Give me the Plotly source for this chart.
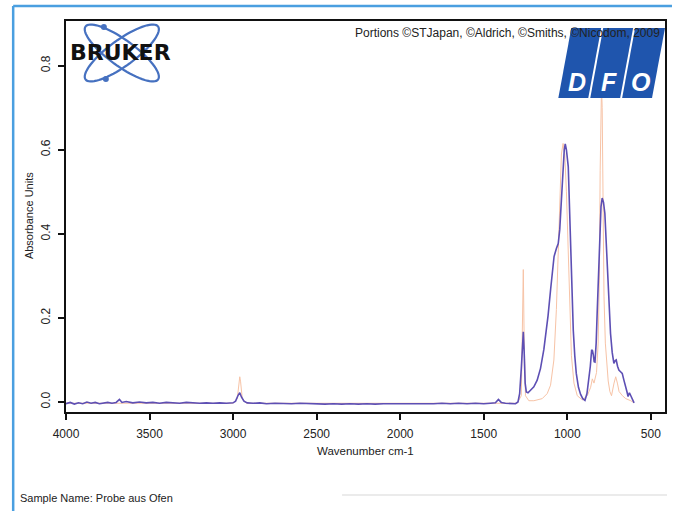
import math
import plotly.graph_objects as go

# ---------------- data ----------------
sample_wn = [4000, 3975, 3950, 3925, 3900, 3875, 3850, 3825, 3800, 3775, 3750, 3725, 3700, 3680, 3665,
             3640, 3600, 3560, 3520, 3480, 3440, 3400, 3360, 3320, 3280, 3240, 3200, 3160, 3120, 3080,
             3040, 3000, 2985, 2970, 2960, 2950, 2935, 2915, 2880, 2840, 2800, 2750, 2700, 2650, 2600,
             2550, 2500, 2450, 2400, 2350, 2300, 2250, 2200, 2150, 2100, 2050, 2000, 1950, 1900, 1850,
             1800, 1750, 1700, 1650, 1600, 1550, 1500, 1460, 1430, 1412, 1395, 1370, 1340, 1310, 1295,
             1285, 1275, 1268, 1263, 1258, 1252, 1245, 1235, 1220, 1200, 1180, 1160, 1140, 1129, 1115,
             1099, 1090, 1079, 1065, 1054, 1045, 1040, 1033, 1026, 1018, 1012, 1005, 994, 987, 980,
             972, 964, 955, 946, 933, 920, 907, 894, 882, 870, 862, 854, 849, 844, 839,
             834, 827, 821, 813, 806, 798, 791, 783, 775, 768, 761, 751, 741, 731, 721,
             714, 707, 699, 691, 681, 671, 661, 651, 643, 636, 628, 621, 613, 605, 600]
sample_abs = [-0.004, -0.001, -0.005, -0.002, -0.004, 0.000, -0.003, -0.001, -0.004, -0.002, -0.001, -0.003, -0.001, 0.006, -0.001,
              0.001, -0.002, 0.000, -0.002, -0.001, -0.003, -0.001, -0.002, -0.003, -0.001, -0.002, -0.003, -0.002, -0.003, -0.002,
              -0.003, -0.002, 0.002, 0.016, 0.022, 0.012, 0.002, -0.002, -0.003, -0.002, -0.004, -0.003, -0.004, -0.004, -0.003,
              -0.004, -0.004, -0.005, -0.004, -0.005, -0.004, -0.005, -0.004, -0.005, -0.004, -0.004, -0.005, -0.004, -0.004, -0.005,
              -0.004, -0.003, -0.004, -0.003, -0.004, -0.003, -0.004, -0.003, -0.002, 0.006, -0.001, -0.003, -0.004, -0.004, 0.000,
              0.020, 0.080, 0.150, 0.167, 0.120, 0.045, 0.024, 0.022, 0.028, 0.036, 0.052, 0.080, 0.125, 0.160, 0.205,
              0.270, 0.310, 0.346, 0.365, 0.377, 0.410, 0.449, 0.500, 0.560, 0.600, 0.614, 0.600, 0.560, 0.470, 0.370,
              0.260, 0.171, 0.110, 0.068, 0.035, 0.018, 0.008, 0.004, 0.020, 0.052, 0.085, 0.124, 0.122, 0.112, 0.096,
              0.095, 0.140, 0.211, 0.320, 0.410, 0.465, 0.485, 0.475, 0.449, 0.390, 0.306, 0.220, 0.163, 0.118, 0.092,
              0.098, 0.100, 0.085, 0.076, 0.072, 0.068, 0.052, 0.040, 0.025, 0.013, 0.022, 0.016, 0.008, 0.004, -0.002]

ref_wn = [4000, 3000, 2975, 2965, 2960, 2955, 2945, 2920, 1300, 1275, 1268, 1263, 1258, 1250, 1230,
          1200, 1150, 1120, 1100, 1080, 1065, 1055, 1045, 1035, 1025, 1015, 1005, 995, 985, 975,
          960, 940, 910, 880, 860, 850, 840, 825, 815, 808, 803, 798, 795, 791, 786,
          780, 772, 765, 755, 745, 735, 720, 710, 700, 690, 670, 650, 620, 600]
ref_abs = [-0.003, -0.003, 0.008, 0.048, 0.060, 0.048, 0.008, -0.003, -0.003, 0.015, 0.150, 0.315, 0.150, 0.015, 0.003,
           0.003, 0.008, 0.020, 0.040, 0.100, 0.220, 0.360, 0.500, 0.590, 0.615, 0.590, 0.500, 0.360, 0.200, 0.110,
           0.045, 0.015, 0.005, 0.015, 0.035, 0.055, 0.045, 0.070, 0.140, 0.290, 0.550, 0.730, 0.750, 0.700, 0.450,
           0.250, 0.140, 0.090, 0.050, 0.025, 0.015, 0.045, 0.060, 0.045, 0.025, 0.015, 0.008, 0.003, -0.002]

x_ticks = [4000, 3500, 3000, 2500, 2000, 1500, 1000, 500]
y_ticks = [0.0, 0.2, 0.4, 0.6, 0.8]
y_tick_text = ["0.0", "0.2", "0.4", "0.6", "0.8"]

# ---------------- layout helpers (pixel -> paper) ----------------
FW, FH = 674, 511
ML, MR, MT, MB = 66, 7, 21, 99
PW = FW - ML - MR
PH = FH - MT - MB


def px(x):
    return (x - ML) / PW


def py(y):
    return (FH - MB - y) / PH


def poly_path(pts):
    return "M " + " L ".join(f"{px(x):.5f},{py(y):.5f}" for x, y in pts) + " Z"


def ellipse_pts(cx, cy, a, b, ang_deg, n=72):
    th = math.radians(ang_deg)
    pts = []
    for i in range(n):
        t = 2 * math.pi * i / n
        x = cx + a * math.cos(t) * math.cos(th) - b * math.sin(t) * math.sin(th)
        y = cy + a * math.cos(t) * math.sin(th) + b * math.sin(t) * math.cos(th)
        pts.append((x, y))
    return pts


FONT = "Liberation Sans, Arial, Helvetica, sans-serif"

fig = go.Figure()
fig.add_trace(go.Scatter(x=ref_wn, y=ref_abs, mode="lines",
                         line=dict(color="#f7c3a6", width=1), hoverinfo="skip", showlegend=False))
fig.add_trace(go.Scatter(x=sample_wn, y=sample_abs, mode="lines",
                         line=dict(color="#5d4fb4", width=1.6), showlegend=False))

shapes = []
# outer blue frame (top and left)
frame_col = "#4a9fe0"
shapes.append(dict(type="line", xref="paper", yref="paper", x0=px(13), y0=py(6), x1=px(674), y1=py(6),
                   line=dict(color=frame_col, width=2.5)))
shapes.append(dict(type="line", xref="paper", yref="paper", x0=px(13), y0=py(6), x1=px(13), y1=py(511),
                   line=dict(color=frame_col, width=2.5)))
# faint line near sample name
shapes.append(dict(type="line", xref="paper", yref="paper", x0=px(343), y0=py(495), x1=px(669), y1=py(495),
                   line=dict(color="#e4e4e4", width=1.5)))

# BRUKER logo orbits
logo_blue = "#4671c0"
for ang in (36, -36):
    shapes.append(dict(type="path", xref="paper", yref="paper",
                       path=poly_path(ellipse_pts(122, 53, 45, 13, ang)),
                       line=dict(color=logo_blue, width=2.2)))
for (dx, dy) in [(104, 27), (106, 79)]:
    shapes.append(dict(type="circle", xref="paper", yref="paper",
                       x0=px(dx - 3), x1=px(dx + 3), y0=py(dy + 3), y1=py(dy - 3),
                       fillcolor=logo_blue, line=dict(width=0)))

# DFO logo blocks
dfo_blue = "#1f55ad"
for x0b in (560, 592, 624):
    pts = [(x0b, 98), (x0b + 30, 98), (x0b + 43, 28), (x0b + 13, 28)]
    shapes.append(dict(type="path", xref="paper", yref="paper", path=poly_path(pts),
                       fillcolor=dfo_blue, line=dict(width=0)))

annotations = [
    dict(text="BRUKER", x=px(121), y=py(53), xref="paper", yref="paper", showarrow=False,
         xanchor="center", yanchor="middle",
         font=dict(family="DejaVu Sans, Liberation Sans, Arial", size=22, color="#111111", weight="bold")),
    dict(text="Portions ©STJapan, ©Aldrich, ©Smiths, ©Nicodom, 2009", x=px(664), y=py(33),
         xref="paper", yref="paper", showarrow=False, xanchor="right", yanchor="middle",
         font=dict(family=FONT, size=12, color="#222222")),
    dict(text="Absorbance Units", x=px(29), y=py(216), xref="paper", yref="paper", showarrow=False,
         textangle=-90, xanchor="center", yanchor="middle",
         font=dict(family=FONT, size=11, color="#222222")),
    dict(text="Wavenumber cm-1", x=px(366), y=py(451), xref="paper", yref="paper", showarrow=False,
         xanchor="center", yanchor="middle",
         font=dict(family=FONT, size=11.5, color="#222222")),
    dict(text="Sample Name: Probe aus Ofen", x=px(18), y=py(498), xref="paper", yref="paper",
         showarrow=False, xanchor="left", yanchor="middle",
         font=dict(family=FONT, size=11, color="#222222")),
]
for letter, cxl in (("D", 579), ("F", 611), ("O", 643)):
    annotations.append(dict(text=letter, x=px(cxl), y=py(82), xref="paper", yref="paper",
                            showarrow=False, xanchor="center", yanchor="middle",
                            font=dict(family=FONT, size=25, color="white", weight="bold", style="italic")))

fig.update_layout(
    width=FW, height=FH, autosize=False,
    margin=dict(l=ML, r=MR, t=MT, b=MB, pad=0),
    paper_bgcolor="white", plot_bgcolor="white",
    font=dict(family=FONT, size=12, color="#222222"),
    shapes=shapes, annotations=annotations,
    xaxis=dict(range=[4000, 415], tickvals=x_ticks, ticktext=[str(v) for v in x_ticks],
               ticks="outside", ticklen=6, tickwidth=1.5, tickcolor="#111111",
               showline=True, linecolor="#111111", linewidth=1.8, mirror=True,
               showgrid=False, zeroline=False, ticklabelstandoff=4,
               tickfont=dict(family=FONT, size=12, color="#222222")),
    yaxis=dict(range=[-0.0238, 0.9063], tickvals=y_ticks, ticktext=y_tick_text,
               ticks="outside", ticklen=6, tickwidth=1.5, tickcolor="#111111", tickangle=-90,
               showline=True, linecolor="#111111", linewidth=1.8, mirror=True,
               showgrid=False, zeroline=False, ticklabelstandoff=3,
               tickfont=dict(family=FONT, size=12, color="#222222")),
)

fig.write_html("out.html", config={"displayModeBar": False},
               post_script="document.body.style.margin='0';document.body.style.padding='0';")
